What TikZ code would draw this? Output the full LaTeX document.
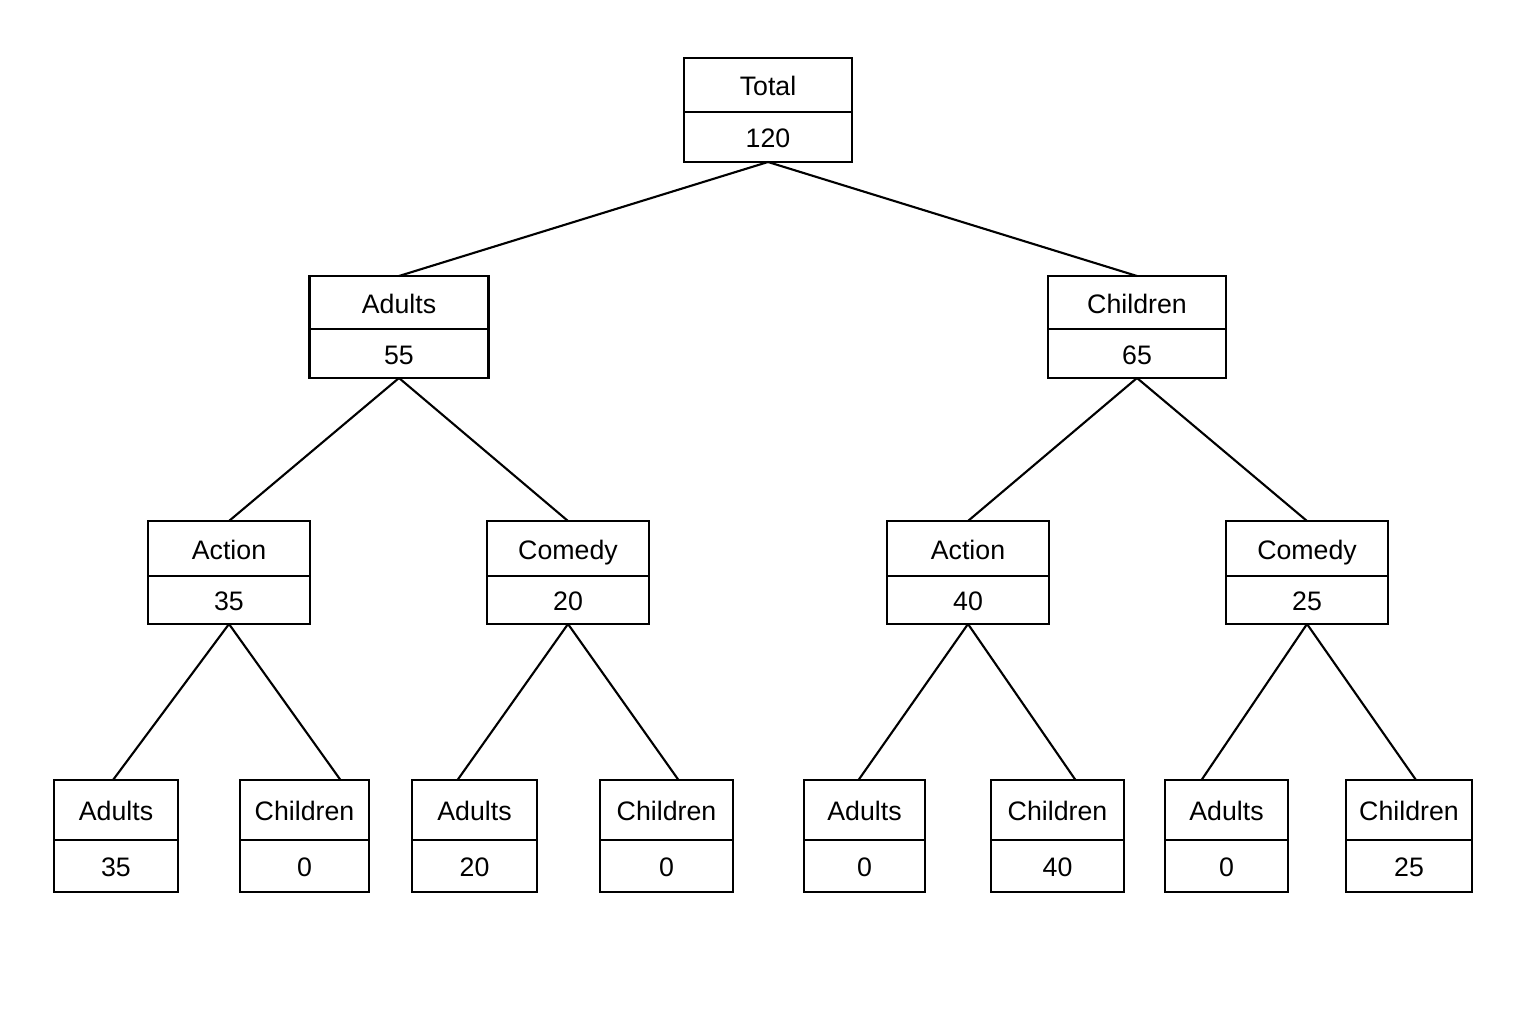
\documentclass[tikz,border=0pt]{standalone}
\usepackage{fontspec}
\setmainfont{Liberation Sans}
\usetikzlibrary{calc}
\def\toppart{\node[draw=black,line width=0.6pt,inner sep=0pt,outer sep=0pt,anchor=north,text height=1.6ex,text depth=0.45ex,font=\fontsize{7.6}{9}\selectfont]}
\def\lowpart{\node[draw=black,line width=0.6pt,inner sep=0pt,outer sep=0pt,anchor=north,text height=1.6ex,text depth=0.45ex,font=\fontsize{7.6}{9}\selectfont]}
\newcommand{\treebox}[8]{% name, x, top y, width, top height, low height, label, value
  \toppart[minimum width=#4*0.01cm,minimum height=#5*0.01cm] (#1) at (#2,#3) {#7};
  \lowpart[minimum width=#4*0.01cm,minimum height=#6*0.01cm] (#1v) at (#1.south) {#8};
}

\begin{document}
\begin{tikzpicture}[x=0.01cm,y=-0.01cm]
\useasboundingbox (0,0) rectangle (1536,1024);

% root and first split
\treebox{tot}{768}{58}{168}{54}{50}{Total}{120}
\treebox{ad}{399}{276}{179}{53}{49}{Adults}{55}
\treebox{ch}{1137}{276}{178}{53}{49}{Children}{65}

% genres
\treebox{adac}{229}{521}{162}{55}{48}{Action}{35}
\treebox{adco}{568}{521}{162}{55}{48}{Comedy}{20}
\treebox{chac}{968}{521}{162}{55}{48}{Action}{40}
\treebox{chco}{1307}{521}{162}{55}{48}{Comedy}{25}

% leaves
\treebox{l1}{116}{780}{124}{60}{52}{Adults}{35}
\treebox{l2}{304.5}{780}{129}{60}{52}{Children}{0}
\treebox{l3}{474.5}{780}{125}{60}{52}{Adults}{20}
\treebox{l4}{666.5}{780}{133}{60}{52}{Children}{0}
\treebox{l5}{864.5}{780}{121}{60}{52}{Adults}{0}
\treebox{l6}{1057.5}{780}{133}{60}{52}{Children}{40}
\treebox{l7}{1226.5}{780}{123}{60}{52}{Adults}{0}
\treebox{l8}{1409}{780}{126}{60}{52}{Children}{25}

% leaf lines meet the tops a little off centre
\coordinate (l1in) at ($ (l1.north) + (-3,0) $);
\coordinate (l2in) at ($ (l2.north) + (36,0) $);
\coordinate (l3in) at ($ (l3.north) + (-17,0) $);
\coordinate (l4in) at ($ (l4.north) + (12,0) $);
\coordinate (l5in) at ($ (l5.north) + (-6,0) $);
\coordinate (l6in) at ($ (l6.north) + (18,0) $);
\coordinate (l7in) at ($ (l7.north) + (-25,0) $);
\coordinate (l8in) at ($ (l8.north) + (7,0) $);

\begin{scope}[line width=0.6pt]
\draw (totv.south) -- (ad.north);
\draw (totv.south) -- (ch.north);
\draw (adv.south) -- (adac.north);
\draw (adv.south) -- (adco.north);
\draw (chv.south) -- (chac.north);
\draw (chv.south) -- (chco.north);
\draw (adacv.south) -- (l1in);
\draw (adacv.south) -- (l2in);
\draw (adcov.south) -- (l3in);
\draw (adcov.south) -- (l4in);
\draw (chacv.south) -- (l5in);
\draw (chacv.south) -- (l6in);
\draw (chcov.south) -- (l7in);
\draw (chcov.south) -- (l8in);
\end{scope}
\end{tikzpicture}
\end{document}
